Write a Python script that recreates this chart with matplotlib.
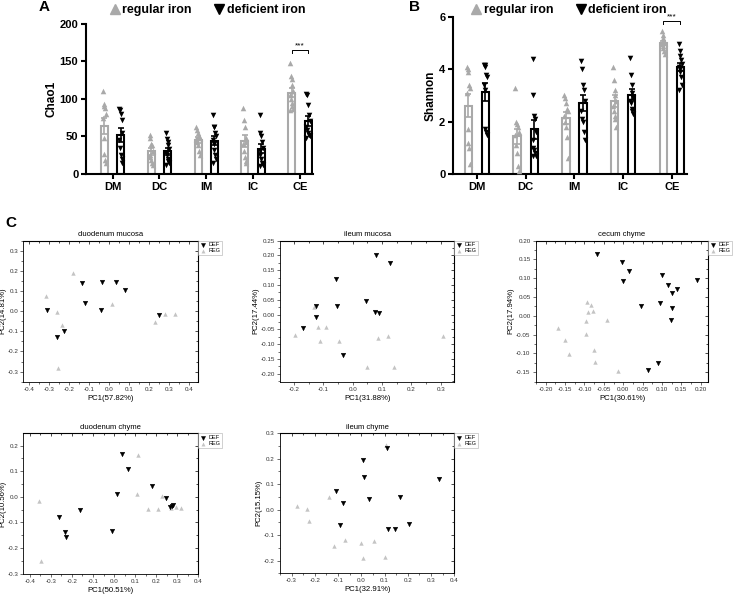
import numpy as np
import matplotlib
matplotlib.use('Agg')
import matplotlib.pyplot as plt
from matplotlib.lines import Line2D
from matplotlib.ticker import MultipleLocator, AutoMinorLocator, FuncFormatter

plt.rcParams['font.family'] = ['Liberation Sans', 'DejaVu Sans']

REG_GRAY = '#a9a9a9'
PCA_GRAY = '#c4c4c4'

## bar chart data (one list of points per gut section)
groups = ['DM', 'DC', 'IM', 'IC', 'CE']

chao1_reg = [[110, 93, 90, 88, 80, 75, 48, 26, 18, 14],
             [52, 48, 40, 38, 30, 25, 22, 18, 15, 12],
             [63, 58, 55, 50, 48, 46, 42, 38, 30, 25],
             [88, 72, 63, 48, 43, 40, 30, 22, 17, 15],
             [148, 130, 127, 118, 110, 105, 100, 95, 90, 86, 85]]
chao1_def = [[87, 85, 80, 72, 55, 45, 35, 25, 20, 15],
             [55, 47, 42, 38, 33, 28, 25, 20, 17, 15, 12],
             [78, 63, 62, 55, 50, 45, 40, 32, 25, 20, 15],
             [78, 55, 50, 42, 35, 30, 25, 20, 15, 12, 10],
             [107, 105, 92, 78, 70, 63, 58, 55, 52, 50, 48]]

shannon_reg = [[4.1, 4.0, 3.9, 3.4, 3.3, 3.1, 1.7, 1.2, 1.0, 0.4],
               [3.3, 2.0, 1.9, 1.8, 1.6, 1.5, 1.1, 0.8, 0.3, 0.1],
               [3.0, 2.9, 2.7, 2.5, 2.4, 2.2, 2.0, 1.8, 1.4, 0.6],
               [4.1, 3.6, 3.2, 3.0, 2.8, 2.6, 2.4, 2.2, 2.1, 1.8],
               [5.45, 5.3, 5.2, 5.1, 5.0, 4.95, 4.9, 4.8, 4.7, 4.6]]
shannon_def = [[4.15, 4.15, 4.1, 3.8, 3.7, 3.4, 3.2, 1.7, 1.6, 1.5],
               [4.4, 3.0, 2.2, 2.1, 1.6, 1.3, 1.0, 0.9, 0.8, 0.7, 0.7],
               [4.3, 4.0, 3.4, 3.2, 2.8, 2.4, 2.1, 2.0, 1.6, 1.3],
               [4.45, 3.8, 3.4, 3.1, 2.9, 2.8, 2.7, 2.5, 2.4, 2.3],
               [4.95, 4.7, 4.5, 4.35, 4.2, 4.1, 4.0, 3.9, 3.7, 3.4, 3.2]]

## PCA data, [PC1, PC2] per sample
duo_mucosa_def = [[-0.31, 0.005], [-0.263, -0.128], [-0.227, -0.10], [-0.135, 0.138],
                  [-0.122, 0.042], [-0.035, 0.146], [-0.042, 0.007], [0.035, 0.143],
                  [0.078, 0.105], [0.25, -0.019]]
duo_mucosa_reg = [[-0.317, 0.075], [-0.263, -0.006], [-0.238, -0.069], [-0.255, -0.28],
                  [-0.183, 0.188], [0.012, 0.034], [0.228, -0.055], [0.282, -0.014],
                  [0.332, -0.014]]

ile_mucosa_def = [[0.080, 0.202], [0.127, 0.174], [-0.058, 0.121], [0.045, 0.047],
                  [-0.124, 0.028], [-0.055, 0.028], [0.075, 0.008], [0.091, 0.007],
                  [-0.124, -0.009], [-0.168, -0.046], [-0.033, -0.136]]
ile_mucosa_reg = [[-0.131, 0.027], [-0.198, -0.068], [-0.117, -0.043], [-0.09, -0.042],
                  [-0.111, -0.088], [-0.048, -0.09], [0.087, -0.078], [0.119, -0.071],
                  [0.306, -0.072], [0.048, -0.179], [0.139, -0.177]]

cec_chyme_def = [[-0.068, 0.164], [-0.004, 0.142], [0.016, 0.119], [-0.001, 0.092],
                 [0.100, 0.109], [0.116, 0.081], [0.125, 0.062], [0.138, 0.071],
                 [0.191, 0.095], [0.046, 0.026], [0.095, 0.035], [0.125, 0.022],
                 [0.123, -0.012], [0.089, -0.124], [0.063, -0.143]]
cec_chyme_reg = [[-0.094, 0.038], [-0.084, 0.029], [-0.091, 0.011], [-0.079, 0.014],
                 [-0.095, -0.014], [-0.043, -0.011], [-0.169, -0.032], [-0.096, -0.049],
                 [-0.150, -0.065], [-0.139, -0.102], [-0.075, -0.092], [-0.072, -0.122],
                 [-0.013, -0.147]]

duo_chyme_def = [[0.039, 0.166], [0.067, 0.108], [0.181, 0.043], [0.015, 0.010],
                 [0.248, -0.003], [0.265, -0.038], [0.281, -0.033], [0.273, -0.034],
                 [-0.162, -0.051], [-0.262, -0.078], [-0.234, -0.138], [-0.226, -0.155],
                 [-0.01, -0.135]]
duo_chyme_reg = [[-0.356, -0.017], [-0.345, -0.252], [0.113, 0.164], [0.107, 0.013],
                 [0.159, -0.048], [0.226, 0.004], [0.208, -0.048], [0.294, -0.038],
                 [0.317, -0.043], [0.268, -0.043]]

ile_chyme_def = [[0.110, 0.241], [0.009, 0.195], [0.011, 0.127], [0.332, 0.119],
                 [-0.110, 0.072], [0.031, 0.041], [0.167, 0.048], [-0.081, 0.026],
                 [-0.092, -0.060], [0.113, -0.075], [0.145, -0.075], [0.207, -0.056]]
ile_chyme_reg = [[0.106, 0.253], [-0.139, 0.051], [-0.275, 0.014], [-0.235, 0.004],
                 [-0.225, -0.045], [-0.119, -0.141], [-0.070, -0.120], [-0.001, -0.131],
                 [0.054, -0.124], [0.005, -0.189], [0.102, -0.185]]


def bar_panel(ax, reg, defi, ylim, ystep, ylabel, xlim, sig_y):
    '''hollow bars with mean +- SEM and all points on top'''
    x = np.arange(len(groups))
    off = 0.175
    width = 0.15
    for vals, sign, color, marker in [(reg, -1, REG_GRAY, '^'), (defi, 1, 'black', 'v')]:
        means = [np.mean(v) for v in vals]
        sems = [np.std(v, ddof=1) / np.sqrt(len(v)) for v in vals]
        xs = x + sign * off
        ax.bar(xs, means, width=width, facecolor='white', edgecolor=color, linewidth=1.5, zorder=2)
        ax.errorbar(xs, means, yerr=sems, fmt='none', ecolor=color, elinewidth=1.2,
                    capsize=2, capthick=1.2, zorder=3)
        # spread the points a little inside the bar
        for xi, v in zip(xs, vals):
            shift = [((i % 5) - 2) * 0.017 for i in range(len(v))]
            ax.scatter(xi + np.array(shift), v, marker=marker, s=16, color=color,
                       linewidths=0, zorder=4)

    # significance bracket over CE
    x0, x1 = x[-1] - off, x[-1] + off
    h = (ylim[1] - ylim[0]) * 0.02
    ax.plot([x0, x0, x1, x1], [sig_y - h, sig_y, sig_y, sig_y - h], color='black', lw=0.7,
            clip_on=False, zorder=5)
    ax.text(x[-1], sig_y + h * 0.3, '***', ha='center', va='bottom', fontsize=6, clip_on=False)

    ax.set_xlim(xlim)
    ax.set_ylim(ylim)
    ax.set_xticks(x)
    ax.set_xticklabels(groups)
    ax.yaxis.set_major_locator(MultipleLocator(ystep))
    ax.set_ylabel(ylabel, fontsize=8.5, fontweight='bold', labelpad=1.5)
    ax.spines['top'].set_visible(False)
    ax.spines['right'].set_visible(False)
    ax.spines['left'].set_linewidth(1.5)
    ax.spines['bottom'].set_linewidth(1.5)
    ax.tick_params(width=1.5, length=3.5, labelsize=8, pad=2)
    for lab in ax.get_xticklabels() + ax.get_yticklabels():
        lab.set_fontweight('bold')


def bar_legend(ax, cx):
    handles = [Line2D([], [], ls='none', marker='^', color=REG_GRAY, markersize=7),
               Line2D([], [], ls='none', marker='v', color='black', markersize=7)]
    leg = ax.legend(handles, ['regular iron', 'deficient iron'], ncol=2, frameon=False,
                    loc='center', bbox_to_anchor=(cx, 0.983), bbox_transform=ax.figure.transFigure,
                    handletextpad=0.0, columnspacing=1.6, handlelength=1.2,
                    prop={'weight': 'bold', 'size': 9})
    return leg


def fmt_func(fmt):
    return FuncFormatter(lambda v, p: fmt % (0.0 if abs(v) < 1e-9 else v))


def pca_panel(ax, defi, reg, xlim, ylim, xstep, ystep, xfmt, yfmt, title, xlabel, ylabel):
    d = np.array(defi)
    r = np.array(reg)
    ax.scatter(d[:, 0], d[:, 1], marker='v', s=11, color='black', linewidths=0.3,
               edgecolors='black', label='DEF', zorder=3)
    ax.scatter(r[:, 0], r[:, 1], marker='^', s=10, color=PCA_GRAY, linewidths=0,
               label='REG', zorder=2)
    ax.set_xlim(xlim)
    ax.set_ylim(ylim)
    ax.xaxis.set_major_locator(MultipleLocator(xstep))
    ax.yaxis.set_major_locator(MultipleLocator(ystep))
    ax.xaxis.set_minor_locator(AutoMinorLocator(2))
    ax.yaxis.set_minor_locator(AutoMinorLocator(2))
    ax.xaxis.set_major_formatter(fmt_func(xfmt))
    ax.yaxis.set_major_formatter(fmt_func(yfmt))
    for s in ax.spines.values():
        s.set_linewidth(0.6)
    ax.tick_params(which='both', direction='out', width=0.5, labelsize=4.5, pad=1.5,
                   colors='#333333')
    ax.tick_params(which='major', length=2.2)
    ax.tick_params(which='minor', length=1.2)

    # origin style: ticks pointing in on top and right
    top = ax.secondary_xaxis('top')
    top.xaxis.set_major_locator(MultipleLocator(xstep))
    top.xaxis.set_minor_locator(AutoMinorLocator(2))
    top.tick_params(which='both', direction='in', width=0.5, labeltop=False)
    top.tick_params(which='major', length=2.2)
    top.tick_params(which='minor', length=1.2)
    right = ax.secondary_yaxis('right')
    right.yaxis.set_major_locator(MultipleLocator(ystep))
    right.yaxis.set_minor_locator(AutoMinorLocator(2))
    right.tick_params(which='both', direction='in', width=0.5, labelright=False)
    right.tick_params(which='major', length=2.2)
    right.tick_params(which='minor', length=1.2)

    ax.set_title(title, fontsize=5.5, pad=3)
    ax.set_xlabel(xlabel, fontsize=5.6, labelpad=2)
    ax.set_ylabel(ylabel, fontsize=5.6, labelpad=1)
    leg = ax.legend(loc='upper left', bbox_to_anchor=(1.0, 1.0), borderaxespad=0,
                    fontsize=4, frameon=True, fancybox=False, edgecolor='#999999',
                    handletextpad=0.3, handlelength=1.2, borderpad=0.3,
                    labelspacing=0.2, markerscale=0.9)
    leg.get_frame().set_linewidth(0.4)


def main():
    fig = plt.figure(figsize=(7.38, 5.96), dpi=100)

    # A: Chao1
    ax_a = fig.add_axes([0.1165, 0.7081, 0.3076, 0.2517])
    bar_panel(ax_a, chao1_reg, chao1_def, (0, 200), 50, 'Chao1', (-0.57, 4.28), 165)
    bar_legend(ax_a, 0.2798)

    # B: Shannon
    ax_b = fig.add_axes([0.6138, 0.7081, 0.3171, 0.2634])
    bar_panel(ax_b, shannon_reg, shannon_def, (0, 6), 2, 'Shannon', (-0.49, 4.31), 5.85)
    bar_legend(ax_b, 0.769)

    # C: PCA panels
    p1 = fig.add_axes([0.0316, 0.3596, 0.2371, 0.2366])
    pca_panel(p1, duo_mucosa_def, duo_mucosa_reg, (-0.43, 0.447), (-0.35, 0.35), 0.1, 0.1,
              '%.1f', '%.1f', 'duodenum mucosa', 'PC1(57.82%)', 'PC2(14.81%)')
    p2 = fig.add_axes([0.3794, 0.3596, 0.2362, 0.2366])
    pca_panel(p2, ile_mucosa_def, ile_mucosa_reg, (-0.248, 0.346), (-0.227, 0.25), 0.1, 0.05,
              '%.1f', '%.2f', 'ileum mucosa', 'PC1(31.88%)', 'PC2(17.44%)')
    p3 = fig.add_axes([0.7259, 0.3596, 0.2339, 0.2366])
    pca_panel(p3, cec_chyme_def, cec_chyme_reg, (-0.226, 0.22), (-0.175, 0.2), 0.05, 0.05,
              '%.2f', '%.2f', 'cecum chyme', 'PC1(30.61%)', 'PC2(17.94%)')
    p4 = fig.add_axes([0.0316, 0.0374, 0.2371, 0.2356])
    pca_panel(p4, duo_chyme_def, duo_chyme_reg, (-0.431, 0.40), (-0.30, 0.248), 0.1, 0.1,
              '%.1f', '%.1f', 'duodenum chyme', 'PC1(50.51%)', 'PC2(10.56%)')
    p5 = fig.add_axes([0.3794, 0.0381, 0.2362, 0.2349])
    pca_panel(p5, ile_chyme_def, ile_chyme_reg, (-0.35, 0.40), (-0.25, 0.30), 0.1, 0.1,
              '%.1f', '%.1f', 'ileum chyme', 'PC1(32.91%)', 'PC2(15.15%)')

    # panel letters
    fig.text(44 / 738, 1 - 7 / 596, 'A', fontsize=11, fontweight='bold', ha='center', va='center')
    fig.text(415 / 738, 1 - 7 / 596, 'B', fontsize=11, fontweight='bold', ha='center', va='center')
    fig.text(11 / 738, 1 - 223 / 596, 'C', fontsize=11, fontweight='bold', ha='center', va='center')

    fig.savefig('out.png', dpi=100)
    plt.close(fig)


if __name__ == "__main__":
    main()
